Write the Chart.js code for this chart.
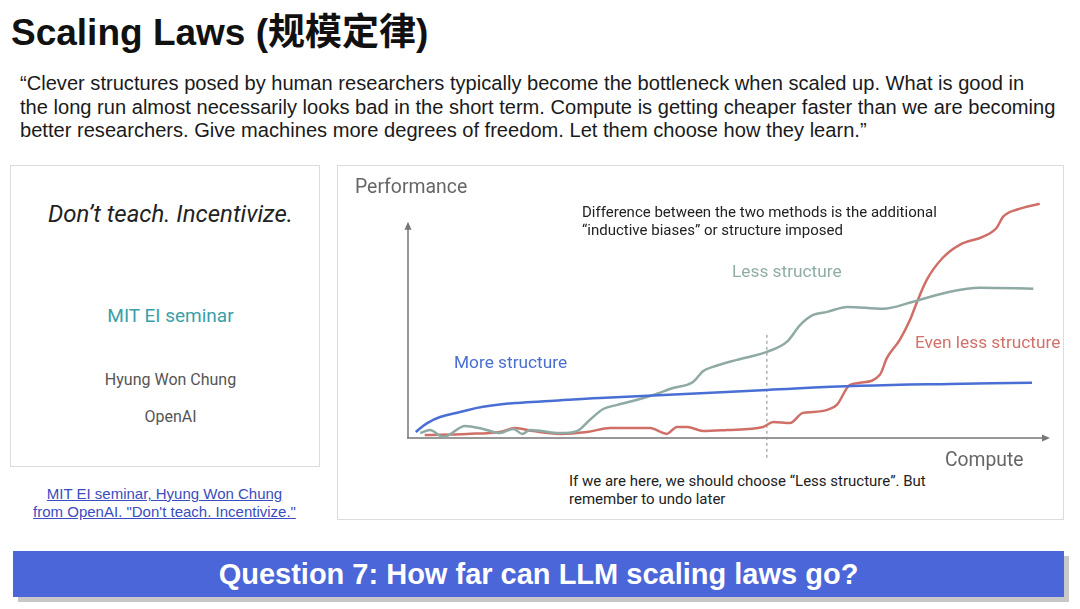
<!DOCTYPE html>
<html>
<head>
<meta charset="utf-8">
<script src="https://cdn.jsdelivr.net/npm/chart.js@4"></script>
<style>
  body { margin: 0; background: #fff; width: 1080px; height: 609px; position: relative; overflow: hidden; font-family: Roboto, "Noto Sans", sans-serif; }
  .t { position: absolute; white-space: nowrap; }
  .box { position: absolute; border: 1px solid #dcdcdc; background: #fff; }
  #title { left: 11px; top: 2px; font: bold 37px "Liberation Sans", Arial, "Noto Sans CJK SC", sans-serif; color: #111; }
  #quote { left: 20px; top: 72px; font: 20.1px "Liberation Sans", Arial, sans-serif; line-height: 23.5px; color: #1a1a1a; }
  .c { text-align: center; width: 309px; left: 16px; }
  #link { left: 10px; width: 309px; top: 485px; text-align: center; font: 15px "Liberation Sans", Arial, sans-serif; line-height: 18px; color: #3b4cc0; text-decoration: underline; }
  #banner { position: absolute; left: 13px; top: 551px; width: 1051px; height: 46px; background: #4b66d9; box-shadow: 5px 5px 0 #c8c8c8; color: #fff; font: bold 29px "Liberation Sans", Arial, sans-serif; text-align: center; line-height: 46px; }
  #chartWrap { position: absolute; left: 398px; top: 190px; width: 664px; height: 273px; }
  .ann { font-size: 15px; color: #222; line-height: 18px; }
</style>
</head>
<body>
<div id="title" class="t">Scaling Laws (规模定律)</div>
<div id="quote" class="t">“Clever structures posed by human researchers typically become the bottleneck when scaled up. What is good in<br>the long run almost necessarily looks bad in the short term. Compute is getting cheaper faster than we are becoming<br>better researchers. Give machines more degrees of freedom. Let them choose how they learn.”</div>

<div class="box" style="left:10px;top:165px;width:308px;height:300px;"></div>
<div class="t c" style="top:200px;font-size:24px;font-style:italic;color:#222;">Don’t teach. Incentivize.</div>
<div class="t c" style="top:304px;font-size:19px;color:#3a9fa8;">MIT EI seminar</div>
<div class="t c" style="top:370px;font-size:16px;color:#555;">Hyung Won Chung</div>
<div class="t c" style="top:407px;font-size:16px;color:#555;">OpenAI</div>
<div id="link" class="t">MIT EI seminar, Hyung Won Chung<br>from OpenAI. "Don't teach. Incentivize."</div>

<div class="box" style="left:337px;top:165px;width:725px;height:353px;"></div>
<div id="chartWrap"><canvas id="chart"></canvas></div>
<div class="t" style="left:355px;top:175px;font-size:19.4px;color:#666;">Performance</div>
<div class="t ann" style="left:582px;top:203px;">Difference between the two methods is the additional<br>“inductive biases” or structure imposed</div>
<div class="t" style="left:732px;top:261px;font-size:17.3px;color:#8fada6;">Less structure</div>
<div class="t" style="left:454px;top:352px;font-size:17.3px;color:#4a6fd0;">More structure</div>
<div class="t" style="left:915px;top:332px;font-size:17.3px;color:#d0716a;">Even less structure</div>
<div class="t" style="left:945px;top:448px;font-size:19.3px;color:#666;">Compute</div>
<div class="t ann" style="left:569px;top:472px;">If we are here, we should choose “Less structure”. But<br>remember to undo later</div>

<div id="banner">Question 7: How far can LLM scaling laws go?</div>

<script>
// compute (0-100) vs performance (0-100)
const moreX = [1.2, 3.0, 5.0, 8.1, 11.7, 17.0, 22.1, 29.9, 46.4, 55.9, 70.4, 84.4, 97.2];
const moreY = [2.8, 6.9, 9.7, 12.0, 14.4, 16.2, 17.1, 18.5, 20.8, 22.2, 24.1, 25.0, 25.5];

const lessX = [1.9, 3.4, 5.5, 8.9, 11.7, 14.3, 16.4, 17.8, 19.0, 23.7, 26.3, 28.3, 30.4, 32.6, 35.0, 38.2, 41.3, 44.4, 46.0, 47.5, 51.2, 55.9, 59.0, 61.1, 63.1, 65.3, 68.4, 74.0, 78.7, 84.4, 89.1, 97.4];
const lessY = [2.3, 3.7, 0.5, 5.6, 4.2, 2.3, 4.2, 1.9, 3.7, 2.3, 3.2, 8.3, 13.4, 15.3, 17.1, 19.9, 23.1, 25.9, 31.0, 32.9, 36.1, 39.8, 44.4, 52.3, 56.9, 58.3, 60.6, 59.7, 63.0, 67.6, 69.4, 69.0];

const evenX = [2.6, 9.2, 14.3, 16.7, 19.5, 23.7, 27.9, 31.5, 37.7, 40.3, 41.9, 43.5, 46.0, 49.7, 55.3, 56.9, 59.5, 61.5, 63.1, 65.3, 66.8, 68.8, 70.4, 73.5, 74.6, 76.6, 78.2, 79.3, 80.8, 83.3, 86.0, 89.6, 91.7, 92.7, 94.9, 98.4];
const evenY = [1.4, 1.9, 2.8, 4.6, 3.2, 1.9, 2.8, 4.6, 4.6, 1.9, 5.1, 5.1, 3.2, 3.7, 5.1, 7.4, 6.9, 11.6, 12.0, 13.0, 15.3, 24.5, 25.5, 29.2, 37.0, 45.4, 54.6, 63.0, 73.1, 83.3, 89.4, 93.1, 97.2, 102.3, 105.6, 108.3];

const hereX = 55.9; // "if we are here"

const pts = (xs, ys) => xs.map((x, i) => ({ x: x, y: ys[i] }));

// axes with arrows + the dashed marker
const arrowAxes = {
  id: 'arrowAxes',
  beforeDatasetsDraw(chart) {
    const { ctx, scales: { x, y } } = chart;
    const x0 = x.getPixelForValue(0), y0 = y.getPixelForValue(0);
    const xEnd = x.getPixelForValue(100), yEnd = y.getPixelForValue(100);
    ctx.save();
    ctx.strokeStyle = '#777';
    ctx.fillStyle = '#777';
    ctx.lineWidth = 1.5;
    ctx.beginPath();
    ctx.moveTo(x0 - 1, y0); ctx.lineTo(xEnd - 6, y0);
    ctx.moveTo(x0, y0); ctx.lineTo(x0, yEnd + 6);
    ctx.stroke();
    ctx.beginPath();
    ctx.moveTo(xEnd, y0); ctx.lineTo(xEnd - 8, y0 - 3.5); ctx.lineTo(xEnd - 8, y0 + 3.5); ctx.closePath();
    ctx.moveTo(x0, yEnd); ctx.lineTo(x0 - 3.5, yEnd + 8); ctx.lineTo(x0 + 3.5, yEnd + 8); ctx.closePath();
    ctx.fill();
    // dashed "we are here" line
    const hx = x.getPixelForValue(hereX);
    ctx.strokeStyle = '#888';
    ctx.lineWidth = 1;
    ctx.setLineDash([3, 3]);
    ctx.beginPath();
    ctx.moveTo(hx, y.getPixelForValue(47.7));
    ctx.lineTo(hx, y.getPixelForValue(-9.3));
    ctx.stroke();
    ctx.restore();
  }
};

new Chart(document.getElementById('chart'), {
  type: 'line',
  data: {
    datasets: [
      { label: 'More structure', data: pts(moreX, moreY), borderColor: '#4a6fd4', cubicInterpolationMode: 'default', tension: 0.4 },
      { label: 'Less structure', data: pts(lessX, lessY), borderColor: '#8fa9a4' },
      { label: 'Even less structure', data: pts(evenX, evenY), borderColor: '#cf6f67' }
    ]
  },
  options: {
    responsive: true,
    maintainAspectRatio: false,
    animation: false,
    layout: { padding: { left: 10, right: 12, top: 10, bottom: 25 } },
    elements: {
      line: { borderWidth: 2.5, cubicInterpolationMode: 'monotone', fill: false },
      point: { radius: 0 }
    },
    datasets: { line: { clip: false } },
    plugins: { legend: { display: false }, tooltip: { enabled: false } },
    scales: {
      x: { type: 'linear', min: 0, max: 100, display: false },
      y: { type: 'linear', min: 0, max: 110, display: false }
    }
  },
  plugins: [arrowAxes]
});
</script>
</body>
</html>
